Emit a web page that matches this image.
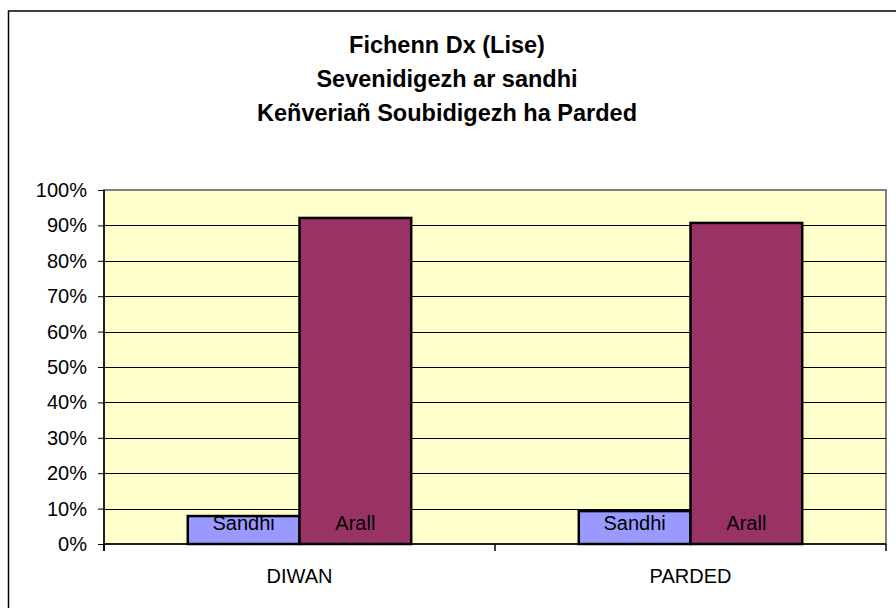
<!DOCTYPE html>
<html>
<head>
<meta charset="utf-8">
<script src="https://cdn.jsdelivr.net/npm/d3@7"></script>
<style>
  html, body { margin: 0; padding: 0; background: #fff; }
  svg { display: block; font-family: Arial, "Liberation Sans", sans-serif; }
</style>
</head>
<body>
<div id="chart"></div>
<script>
const categories = ["DIWAN", "PARDED"]
const seriesNames = ["Sandhi", "Arall"]
const sandhiValues = [0.079, 0.093]
const arallValues = [0.921, 0.907]
const yTicks = [0, 0.1, 0.2, 0.3, 0.4, 0.5, 0.6, 0.7, 0.8, 0.9, 1]
const titleLines = [
  "Fichenn Dx (Lise)",
  "Sevenidigezh ar sandhi",
  "Keñveriañ Soubidigezh ha Parded"
]
const colors = ["#9999ff", "#993366"]

const width = 896
const height = 608
const marginTop = 190
const marginRight = 10
const marginBottom = 64
const marginLeft = 104
const fontFamily = "Arial, 'Liberation Sans', sans-serif"

const data = categories.map((c, i) => ({
  category: c,
  Sandhi: sandhiValues[i],
  Arall: arallValues[i]
}))

const svg = d3
  .create("svg")
  .attr("viewBox", [0, 0, width, height])
  .attr("width", width)
  .attr("height", height)

// outer chart frame (runs off the right and bottom of the picture)
svg
  .append("rect")
  .attr("x", 8.5)
  .attr("y", 11)
  .attr("width", 940)
  .attr("height", 660)
  .attr("fill", "#fff")
  .attr("stroke", "#000")
  .attr("stroke-width", 1.5)

// title
svg
  .append("g")
  .attr("text-anchor", "middle")
  .attr("font-weight", "bold")
  .attr("font-size", 23.5)
  .selectAll("text")
  .data(titleLines)
  .join("text")
  .attr("x", 447)
  .attr("y", (d, i) => 53 + i * 34)
  .text(d => d)

const x0 = d3
  .scaleBand()
  .domain(categories)
  .range([marginLeft, width - marginRight])
  .paddingInner(0.4286)
  .paddingOuter(0.2143)

const x1 = d3
  .scaleBand()
  .domain(seriesNames)
  .range([0, x0.bandwidth()])

const y = d3
  .scaleLinear()
  .domain([0, 1])
  .range([height - marginBottom, marginTop])

// plot area
svg
  .append("rect")
  .attr("x", marginLeft)
  .attr("y", marginTop)
  .attr("width", width - marginRight - marginLeft)
  .attr("height", y(0) - marginTop)
  .attr("fill", "#ffffcc")
  .attr("stroke", "#808080")
  .attr("stroke-width", 2)

// gridlines
svg
  .append("g")
  .selectAll("line")
  .data(yTicks.filter(d => d > 0 && d < 1))
  .join("line")
  .attr("x1", marginLeft)
  .attr("x2", width - marginRight)
  .attr("y1", d => Math.round(y(d)) + 0.5)
  .attr("y2", d => Math.round(y(d)) + 0.5)
  .attr("stroke", "#000")

// y axis
const yAxis = d3
  .axisLeft(y)
  .tickValues(yTicks)
  .tickFormat(d3.format(".0%"))
  .tickSizeInner(6)
  .tickSizeOuter(0)
  .tickPadding(11)

svg
  .append("g")
  .attr("transform", `translate(${marginLeft}, 0)`)
  .call(yAxis)
  .call(g => g.selectAll("text").attr("font-size", 20).attr("fill", "#000").attr("font-family", fontFamily))
  .call(g => g.select(".domain").attr("stroke-width", 1.5).attr("d", `M0,${marginTop}V${y(0) + 7}`))

// bars
const groups = svg
  .append("g")
  .selectAll("g")
  .data(data)
  .join("g")
  .attr("transform", d => `translate(${x0(d.category)}, 0)`)

groups
  .selectAll("rect")
  .data(d => seriesNames.map((s, i) => ({ key: s, value: d[s], i })))
  .join("rect")
  .attr("x", d => x1(d.key))
  .attr("y", d => y(d.value))
  .attr("width", x1.bandwidth())
  .attr("height", d => y(0) - y(d.value))
  .attr("fill", d => colors[d.i])
  .attr("stroke", "#000")
  .attr("stroke-width", 2.5)

// data labels at bar base
groups
  .selectAll("text")
  .data(d => seriesNames.map(s => ({ key: s })))
  .join("text")
  .attr("x", d => x1(d.key) + x1.bandwidth() / 2)
  .attr("y", y(0) - 14)
  .attr("text-anchor", "middle")
  .attr("font-size", 20)
  .text(d => d.key)

// x axis
const xAxisY = y(0)
svg
  .append("line")
  .attr("x1", marginLeft)
  .attr("x2", width - marginRight)
  .attr("y1", xAxisY)
  .attr("y2", xAxisY)
  .attr("stroke", "#000")
  .attr("stroke-width", 1.5)

const boundaries = [marginLeft, ...categories.map(c => x0(c) + x0.bandwidth() + x0.step() * x0.paddingInner() / 2)]
svg
  .append("g")
  .selectAll("line")
  .data(boundaries)
  .join("line")
  .attr("x1", d => d)
  .attr("x2", d => d)
  .attr("y1", xAxisY)
  .attr("y2", xAxisY + 7)
  .attr("stroke", "#000")
  .attr("stroke-width", 1.5)

svg
  .append("g")
  .selectAll("text")
  .data(categories)
  .join("text")
  .attr("x", d => x0(d) + x0.bandwidth() / 2)
  .attr("y", 583)
  .attr("text-anchor", "middle")
  .attr("font-size", 20)
  .text(d => d)

document.querySelector("#chart").append(svg.node())
</script>
</body>
</html>
